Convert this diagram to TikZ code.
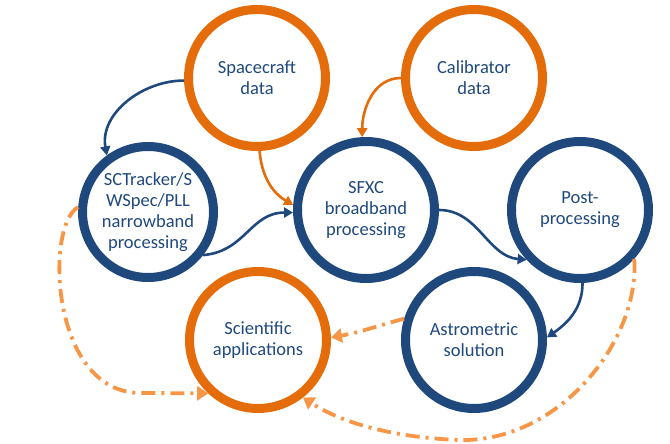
\documentclass[tikz,border=0pt]{standalone}
\usepackage{fontspec}
\setmainfont{Carlito}
\usetikzlibrary{arrows.meta}
\definecolor{ringorange}{HTML}{E46C0A}
\definecolor{ringblue}{HTML}{1F497D}
\definecolor{lightorange}{HTML}{F79646}
\begin{document}
\begin{tikzpicture}[x=1pt,y=-1pt,
  ring/.style={circle,draw=#1,line width=9pt,minimum size=137pt,inner sep=0pt,
    align=center,text=ringblue,font=\fontsize{18.5}{21}\selectfont},
  bluearrow/.style={draw=ringblue,line width=2.6pt,-{Triangle[length=9pt,width=10pt]}},
  orangearrow/.style={draw=ringorange,line width=2.6pt,-{Triangle[length=9pt,width=10pt]}},
  dasharrow/.style={draw=lightorange,line width=3.8pt,
    dash pattern=on 14pt off 6pt on 3pt off 6pt,
    -{Triangle[length=11pt,width=14pt]}}]
\useasboundingbox (0,0) rectangle (670,444);
\node[ring=ringorange] (sc)   at (257,78)  {Spacecraft\\data};
\node[ring=ringorange] (cal)  at (474,78)  {Calibrator\\data};
\node[ring=ringblue,minimum size=131pt] (sct) at (148,212) {SCTracker/S\\WSpec/PLL\\narrowband\\processing};
\node[ring=ringblue]   (sfxc) at (366,210) {SFXC\\broadband\\processing};
\node[ring=ringblue]   (post) at (580,210) {Post-\\processing};
\node[ring=ringblue]   (ast)  at (474,340) {Astrometric\\solution};
\node[ring=ringorange] (sci)  at (258,340) {Scientific\\applications};

\draw[bluearrow] (sc.182) to[out=180,in=100] (sct.126);
\draw[orangearrow] (sc.-88) to[out=-85,in=150] (sfxc.176);
\draw[orangearrow] (cal.180) to[out=180,in=90] (sfxc.93);
\draw[bluearrow] (sct.-38) to[out=5,in=180,looseness=1.1] (sfxc.182);
\draw[bluearrow] (sfxc.0) to[out=0,in=175] (post.223);
\draw[bluearrow] (post.-88) to[out=-90,in=35] (ast.2);
\draw[dasharrow] (ast.163) to[out=195,in=10] (sci.2);
\draw[dasharrow] (sct.176) .. controls (45,225) and (50,392) .. (140,393) -- (sci.227);
\draw[dasharrow] (post.-42) .. controls (640,340) and (560,442) .. (460,440)
  .. controls (400,438) and (345,425) .. (sci.-52);
\end{tikzpicture}
\end{document}
